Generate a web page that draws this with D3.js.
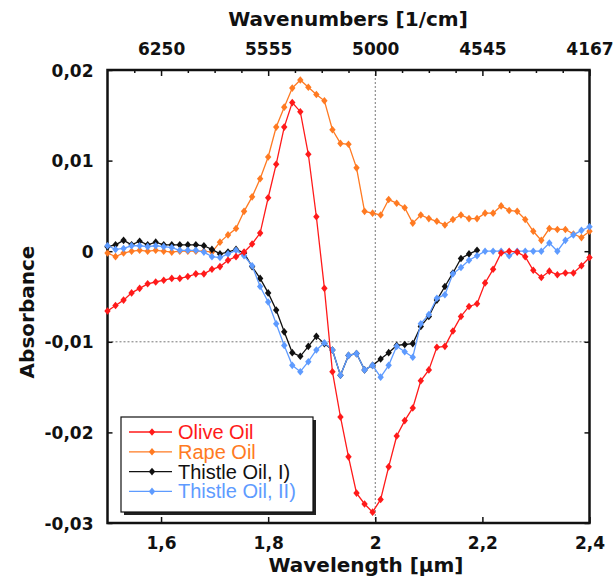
<!DOCTYPE html>
<html>
<head>
<meta charset="utf-8">
<script src="https://cdnjs.cloudflare.com/ajax/libs/d3/7.8.5/d3.min.js"></script>
<style>
  body { margin: 0; background: #fff; }
  svg { display: block; }
</style>
</head>
<body>
<div id="chart"></div>
<script>
// wavelength grid in µm (one point every ~0.015 µm)
const wavelengths = [
  1.500, 1.515, 1.530, 1.545, 1.560, 1.575, 1.590, 1.605, 1.620, 1.635,
  1.650, 1.665, 1.680, 1.695, 1.710, 1.725, 1.740, 1.755, 1.770, 1.785,
  1.800, 1.815, 1.830, 1.845, 1.860, 1.875, 1.890, 1.905, 1.920, 1.935,
  1.950, 1.965, 1.980, 1.995, 2.010, 2.025, 2.040, 2.055, 2.070, 2.085,
  2.100, 2.115, 2.130, 2.145, 2.160, 2.175, 2.190, 2.205, 2.220, 2.235,
  2.250, 2.265, 2.280, 2.295, 2.310, 2.325, 2.340, 2.355, 2.370, 2.385,
  2.400
];

const oliveOil = [
  -0.0066, -0.0060, -0.0054, -0.0046, -0.0041, -0.0036, -0.0034, -0.0032, -0.0030, -0.0030,
  -0.0028, -0.0025, -0.0025, -0.0020, -0.0017, -0.0010, -0.0006, -0.0001, 0.0008, 0.0020,
  0.0059, 0.0096, 0.0137, 0.0164, 0.0154, 0.0107, 0.0038, -0.0041, -0.0133, -0.0183,
  -0.0227, -0.0267, -0.0279, -0.0288, -0.0274, -0.0238, -0.0204, -0.0187, -0.0173, -0.0143,
  -0.0131, -0.0106, -0.0105, -0.0088, -0.0072, -0.0061, -0.0058, -0.0035, -0.0020, -0.0002,
  0.0000, -0.0001, -0.0006, -0.0021, -0.0029, -0.0022, -0.0026, -0.0024, -0.0024, -0.0016,
  -0.0007
];

const rapeOil = [
  -0.0002, -0.0006, -0.0002, 0.0000, 0.0001, 0.0000, 0.0001, 0.0000, -0.0001, 0.0000,
  0.0000, 0.0000, 0.0000, -0.0001, 0.0010, 0.0018, 0.0025, 0.0044, 0.0060, 0.0080,
  0.0104, 0.0137, 0.0159, 0.0180, 0.0189, 0.0181, 0.0173, 0.0166, 0.0134, 0.0119,
  0.0118, 0.0092, 0.0044, 0.0042, 0.0040, 0.0057, 0.0053, 0.0048, 0.0031, 0.0040,
  0.0036, 0.0033, 0.0029, 0.0035, 0.0040, 0.0036, 0.0036, 0.0042, 0.0042, 0.0050,
  0.0045, 0.0044, 0.0035, 0.0022, 0.0012, 0.0025, 0.0024, 0.0024, 0.0019, 0.0015,
  0.0022
];

// Thistle Oil I) stops at about 2.19 µm
const thistleOil1 = [
  0.0005, 0.0007, 0.0012, 0.0007, 0.0011, 0.0007, 0.0010, 0.0007, 0.0007, 0.0007,
  0.0007, 0.0007, 0.0006, 0.0002, -0.0003, -0.0001, 0.0002, -0.0002, -0.0017, -0.0030,
  -0.0046, -0.0065, -0.0089, -0.0112, -0.0116, -0.0105, -0.0094, -0.0102, -0.0109, -0.0137,
  -0.0115, -0.0113, -0.0131, -0.0126, -0.0119, -0.0112, -0.0104, -0.0103, -0.0102, -0.0083,
  -0.0072, -0.0054, -0.0039, -0.0024, -0.0008, -0.0003, 0.0001
];

const thistleOil2 = [
  0.0006, 0.0002, 0.0003, 0.0006, 0.0006, 0.0005, 0.0006, 0.0005, 0.0004, 0.0001,
  0.0001, 0.0001, -0.0001, -0.0006, -0.0007, -0.0003, 0.0001, -0.0005, -0.0016, -0.0039,
  -0.0056, -0.0080, -0.0104, -0.0126, -0.0133, -0.0122, -0.0109, -0.0101, -0.0109, -0.0137,
  -0.0115, -0.0113, -0.0131, -0.0126, -0.0139, -0.0126, -0.0105, -0.0111, -0.0117, -0.0080,
  -0.0070, -0.0052, -0.0048, -0.0025, -0.0018, -0.0010, -0.0005, 0.0000, 0.0000, 0.0000,
  -0.0005, 0.0000, 0.0000, 0.0000, 0.0000, 0.0009, 0.0000, 0.0012, 0.0018, 0.0023,
  0.0027
];

const seriesNames = ["Olive Oil", "Rape Oil", "Thistle Oil, I)", "Thistle Oil, II)"];
const seriesColors = ["#ff1a1a", "#ff7a22", "#111111", "#5e9bff"];

const xTicks = [1.6, 1.8, 2.0, 2.2, 2.4];
const xMinorTicks = [1.55, 1.65, 1.7, 1.75, 1.85, 1.9, 1.95, 2.05, 2.1, 2.15, 2.25, 2.3, 2.35];
const yTicks = [0.02, 0.01, 0, -0.01, -0.02, -0.03];
const topTickLabels = ["6250", "5555", "5000", "4545", "4167"];

const width = 615, height = 581;
const margin = {top: 70, right: 25.5, bottom: 58, left: 107.5};
const innerWidth = width - margin.left - margin.right;
const innerHeight = height - margin.top - margin.bottom;

const locale = d3.formatLocale({decimal: ",", thousands: ".", grouping: [3], currency: ["", ""], minus: "-"});

const xScale = d3.scaleLinear().domain([1.5, 2.4]).range([0, innerWidth]);
const yScale = d3.scaleLinear().domain([-0.03, 0.02]).range([innerHeight, 0]);

const svg = d3.select("#chart")
  .append("svg")
  .attr("width", width)
  .attr("height", height)
  .attr("viewBox", `0 0 ${width} ${height}`);

const g = svg.append("g")
  .attr("transform", `translate(${margin.left},${margin.top})`);

const tickFont = "'DejaVu Sans', Verdana, sans-serif";

// dotted reference lines
g.append("line")
  .attr("x1", 0).attr("x2", innerWidth)
  .attr("y1", yScale(-0.01)).attr("y2", yScale(-0.01))
  .attr("stroke", "#777").attr("stroke-dasharray", "2,2");
g.append("line")
  .attr("x1", xScale(2.0)).attr("x2", xScale(2.0))
  .attr("y1", 0).attr("y2", innerHeight)
  .attr("stroke", "#777").attr("stroke-dasharray", "2,2");

// bottom axis, ticks point inwards
const bottomAxis = g.append("g")
  .attr("transform", `translate(0,${innerHeight})`)
  .call(d3.axisBottom(xScale)
    .tickValues(xTicks)
    .tickSizeInner(-6)
    .tickSizeOuter(0)
    .tickFormat(locale.format(".1~f")));
bottomAxis.selectAll("text").attr("y", 26).attr("dy", null);

// top axis: minor ticks (no labels), then major ticks with wavenumber labels
const minorTop = g.append("g")
  .call(d3.axisTop(xScale)
    .tickValues(xMinorTicks)
    .tickSizeInner(-3)
    .tickSizeOuter(0));
minorTop.selectAll("text").remove();

const topAxis = g.append("g")
  .call(d3.axisTop(xScale)
    .tickValues(xTicks)
    .tickSizeInner(-6)
    .tickSizeOuter(0)
    .tickFormat((d, i) => topTickLabels[i]));
topAxis.selectAll("text").attr("y", -15).attr("dy", null);

const leftAxis = g.append("g")
  .call(d3.axisLeft(yScale)
    .tickValues(yTicks)
    .tickSizeInner(-5)
    .tickSizeOuter(0)
    .tickFormat(locale.format(".2~f")));
leftAxis.selectAll("text").attr("x", -14).attr("y", 6).attr("dy", null);

const rightAxis = g.append("g")
  .attr("transform", `translate(${innerWidth},0)`)
  .call(d3.axisRight(yScale)
    .tickValues(yTicks)
    .tickSizeInner(-5)
    .tickSizeOuter(0));
rightAxis.selectAll("text").remove();

g.selectAll(".domain").remove();
g.selectAll(".tick line").attr("stroke", "#111").attr("stroke-width", 1.5);
g.selectAll(".tick text")
  .attr("fill", "#111")
  .style("font-family", tickFont)
  .style("font-size", "17px")
  .style("font-weight", "bold");

// frame
g.append("rect")
  .attr("width", innerWidth)
  .attr("height", innerHeight)
  .attr("fill", "none")
  .attr("stroke", "#111")
  .attr("stroke-width", 2.5);

// series
const lineGenerator = d3.line()
  .x((d, i) => xScale(wavelengths[i]))
  .y(d => yScale(d));

const diamond = "M0,-3.8L3.2,0L0,3.8L-3.2,0Z";

const allSeries = [oliveOil, rapeOil, thistleOil1, thistleOil2];
// red is drawn last, it lies on top of the others
const drawOrder = [1, 2, 3, 0];

drawOrder.forEach(idx => {
  const values = allSeries[idx];
  const color = seriesColors[idx];
  const sg = g.append("g");
  sg.append("path")
    .attr("d", lineGenerator(values))
    .attr("fill", "none")
    .attr("stroke", color)
    .attr("stroke-width", 1.3);
  sg.selectAll("path.marker")
    .data(values)
    .join("path")
    .attr("class", "marker")
    .attr("d", diamond)
    .attr("transform", (d, i) => `translate(${xScale(wavelengths[i])},${yScale(d)})`)
    .attr("fill", color);
});

// legend
const legend = svg.append("g")
  .attr("transform", "translate(121,417)");

legend.append("rect")
  .attr("x", 3).attr("y", 3)
  .attr("width", 192).attr("height", 95)
  .attr("fill", "#222");
legend.append("rect")
  .attr("width", 192).attr("height", 95)
  .attr("fill", "#fff")
  .attr("stroke", "#111")
  .attr("stroke-width", 1.2);

seriesNames.forEach((name, i) => {
  const row = legend.append("g")
    .attr("transform", `translate(0,${15 + i * 19.8})`);
  row.append("line")
    .attr("x1", 8).attr("x2", 51)
    .attr("stroke", seriesColors[i])
    .attr("stroke-width", 1.3);
  row.append("path")
    .attr("d", diamond)
    .attr("transform", "translate(31,0)")
    .attr("fill", seriesColors[i]);
  row.append("text")
    .attr("x", 57)
    .attr("y", 7)
    .attr("fill", seriesColors[i])
    .style("font-family", "'Liberation Sans', Arial, sans-serif")
    .style("font-size", "20px")
    .text(name);
});

// axis titles
svg.append("text")
  .attr("x", 348).attr("y", 26)
  .attr("text-anchor", "middle")
  .style("font-family", tickFont)
  .style("font-size", "20px")
  .style("font-weight", "bold")
  .attr("fill", "#111")
  .text("Wavenumbers [1/cm]");

svg.append("text")
  .attr("x", 366).attr("y", 572)
  .attr("text-anchor", "middle")
  .style("font-family", tickFont)
  .style("font-size", "20px")
  .style("font-weight", "bold")
  .attr("fill", "#111")
  .text("Wavelength [µm]");

svg.append("text")
  .attr("transform", "translate(34,312) rotate(-90)")
  .attr("text-anchor", "middle")
  .style("font-family", tickFont)
  .style("font-size", "20px")
  .style("font-weight", "bold")
  .attr("fill", "#111")
  .text("Absorbance");
</script>
</body>
</html>
